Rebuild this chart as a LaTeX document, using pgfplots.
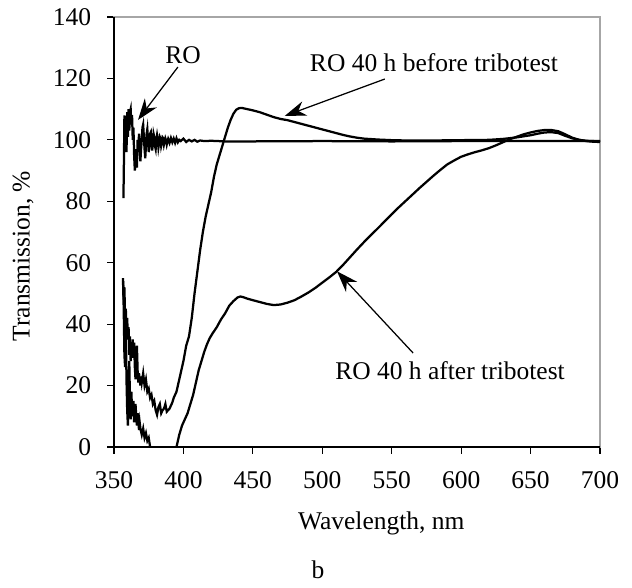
\documentclass[border=0pt]{standalone}
\usepackage{fontspec}
\setmainfont{Liberation Serif}
\usepackage{pgfplots}
\pgfplotsset{compat=1.18}
\usetikzlibrary{arrows.meta}

\pgfplotstableread{
x y
356.8 81
357.2 95
357.5 108
358 100
358.5 107
359 96
359.5 109
360 101
360.5 110
361 103
361.5 109
362 110
362.5 105
363 108
363.5 100
364 104
364.5 95
365 90
365.5 92
366 97
366.5 91
367 100
367.5 96
368 102
368.5 98
369 93
369.5 97
370 100
370.5 104
371 105
371.5 101
372 97
372.5 94
373 98
373.5 102
374 103.5
374.5 100
375 96
375.5 98
376 102
376.5 102.5
377 99
377.5 96.5
378 99
378.5 102
379 101
379.5 98
380 97
380.5 100
381 101.5
381.5 100
382 97.5
382.5 99
383 101
383.5 100.5
384 98
384.5 99
385 100.8
385.5 100.5
386 98.5
386.5 99.5
387 100.5
387.5 99.8
388 98.5
388.5 99.5
389 100.3
390 99
391 100.6
392 99.2
393 100.4
394 99
395 100.5
396 99.2
397 100
398 99.6
400 100.4
402 99.3
404 100
406 99.5
408 100
410 99.4
412 99.8
415 99.6
420 99.7
430 99.5
450 99.5
500 99.6
550 99.5
600 99.6
650 99.6
700 99.6
}\ro

\pgfplotstableread{
x y
356.5 55
357 48
357.5 52
358 41
358.5 45
359 38
359.5 42
360 35
360.5 39
361 30
361.5 36
362 28
362.5 33
363 29
363.5 35
364 30
364.5 34
365 26
365.5 22
366 28
366.5 33
367 25
367.5 21
368 24
368.5 22
369 20
369.5 23
370 21
371 24
372 20
373 22
374 18
375 19
376 16
377 17
378 14
379 15
380 12
381 10.5
382 13
383 14
384 11
385 12
386 12.5
387 14
388 11.5
389 12
390 12.5
391 13.5
392 14.5
393 16
394 17
395 18
396 20
397 22
398 24
399 26
400 28
402 33
404 36
406 42
408 50
410 57
412 64
414 70
416 75
418 79
420 83
422 88
424 92
426 95
428 98
430 101
432 104
434 106.5
436 108.5
438 109.8
440 110.3
442 110.4
444 110.2
446 110
448 109.8
450 109.6
455 109
460 108.2
465 107.4
470 106.8
475 106.4
480 105.8
485 105.2
490 104.6
495 104
500 103.4
505 102.8
510 102.2
515 101.6
520 101.1
525 100.7
530 100.4
540 100.1
550 99.9
560 99.8
580 99.8
600 99.9
620 100
630 100.3
640 100.8
650 101.5
655 102
660 102.4
665 102.5
670 102.2
675 101.3
680 100.5
685 100
690 99.7
700 99.5
}\before

\pgfplotstableread{
x y
356.5 54
357 45
357.5 30
358 26
358.5 40
359 22
359.5 12
360 7
360.5 20
361 28
361.5 15
362 9
362.5 18
363 12
363.5 10
364 15
364.5 8
365 12
365.5 14
366 10
366.5 7
367 11
367.5 9
368 5.5
368.5 8
369 6
370 4
371 6
372 3
373 4.5
374 2
375 3
376 0
377 -2
378 -4
380 -5
385 -6
390 -4
393 -2
395 0
397 4
399 7
401 9
403 11
405 14
407 17
409 21
411 25
413 28
415 31
417 33.5
419 35.5
421 37
424 39
427 41.5
430 43.5
433 46
436 47.5
439 48.7
441 49
443 48.8
446 48.3
450 47.8
455 47.2
460 46.6
465 46.2
470 46.4
475 47
480 47.8
485 49
490 50.3
495 51.8
500 53.5
505 55.2
510 57
515 59.3
520 61.8
525 64.3
530 66.7
535 69
540 71.2
545 73.5
550 75.8
555 78
560 80.1
565 82.2
570 84.3
575 86.3
580 88.3
585 90.2
590 92
595 93.3
600 94.5
605 95.3
610 96
615 96.6
620 97.3
625 98.2
630 99.2
635 100.2
640 101
645 101.8
650 102.4
655 102.9
660 103.2
665 103.2
670 102.8
675 101.8
680 100.7
685 100
690 99.6
695 99.4
700 99.3
}\after

\begin{document}
\fontsize{10.2}{12.2}\selectfont
\begin{tikzpicture}
\begin{axis}[
  name=ax,
  scale only axis,
  width=194.4pt, height=172pt,
  xmin=350, xmax=700, ymin=0, ymax=140,
  xtick={350,400,...,700}, ytick={0,20,...,140},
  tick pos=left,
  tick align=outside, major tick length=2.7pt,
  tick style={black, line width=0.5pt},
  axis line style={draw=gray!70, line width=0.7pt},
  /pgf/number format/assume math mode=true,
  xticklabel style={yshift=-3.4pt},
  yticklabel style={xshift=-2.8pt},
  xlabel={Wavelength, nm},
  ylabel={Transmission, \%},
  xlabel style={at={(axis description cs:0.55,-0.177)}, anchor=center},
  ylabel style={at={(axis description cs:-0.187,0.444)}, anchor=center},
  clip mode=individual,
]
\addplot[black, line width=0.9pt] table[x=x,y=y] {\ro};
\addplot[black, line width=0.9pt] table[x=x,y=y] {\before};
\addplot[black, line width=0.9pt] table[x=x,y=y] {\after};

\draw[black, line width=0.7pt] (rel axis cs:0,1) -- (rel axis cs:0,0) -- (rel axis cs:1,0);

\node at (axis cs:399.7,127.6) {RO};
\draw[line width=0.5pt, -{Stealth[length=8.5pt,width=6pt]}] (axis cs:396,123.7) -- (axis cs:367.3,106.5);

\node at (axis cs:580.4,125) {RO 40 h before tribotest};
\draw[line width=0.5pt, -{Stealth[length=8.5pt,width=6pt]}] (axis cs:545,119.8) -- (axis cs:473,107.8);

\node at (axis cs:592,25) {RO 40 h after tribotest};
\draw[line width=0.5pt, -{Stealth[length=8.5pt,width=6pt]}] (axis cs:565.4,30.6) -- (axis cs:510.6,57.2);

\node at (axis description cs:0.42,-0.285) {b};
\end{axis}
\pgfresetboundingbox
\path ([shift={(-45.6pt,-56pt)}]ax.south west) rectangle ([shift={(12.8pt,6.8pt)}]ax.north east);
\end{tikzpicture}
\end{document}
